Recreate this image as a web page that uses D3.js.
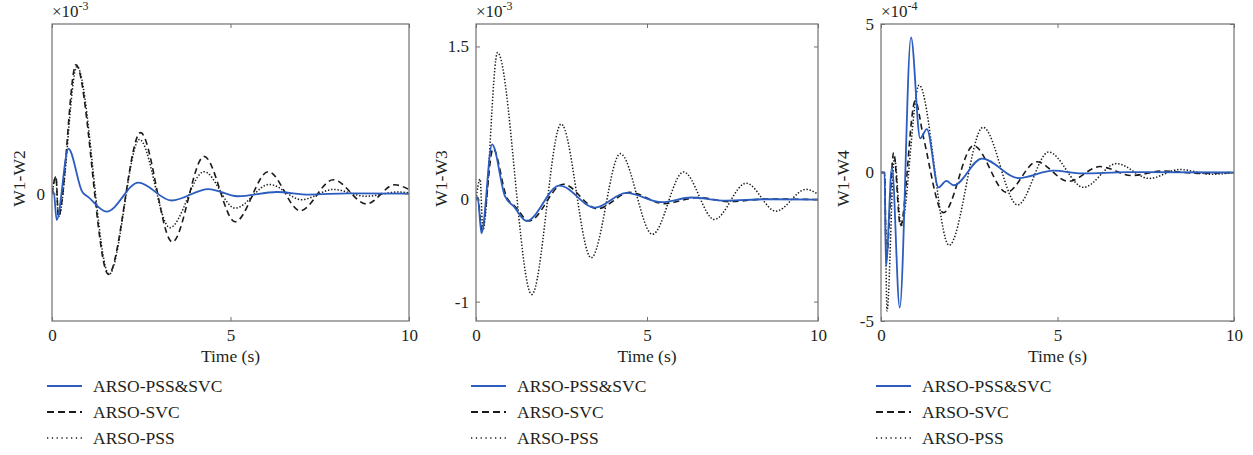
<!DOCTYPE html>
<html>
<head>
<meta charset="utf-8">
<script src="https://cdn.jsdelivr.net/npm/d3@7"></script>
<style>
  body { margin: 0; background: #fff; }
</style>
</head>
<body>
<svg id="chart" width="1253" height="455"></svg>
<script>
// Series data: [time (s), value in units of the panel's multiplier]
const seriesNames = ['ARSO-PSS&SVC', 'ARSO-SVC', 'ARSO-PSS'];

// W1-W2 (x1e-3)
const w12Both = [[0,0],[0.05,0.02],[0.13,-0.31],[0.46,0.53],[0.85,0.02],[1.02,-0.04],[1.53,-0.21],[2.42,0.13],[3.35,-0.08],[4.38,0.055],[5.2,-0.03],[6.3,0.02],[7.2,-0.01],[8.3,0.005],[10,0]];
const w12Svc = [[0,0],[0.11,0.2],[0.18,-0.27],[0.67,1.52],[1.58,-0.95],[2.48,0.72],[3.37,-0.57],[4.26,0.44],[5.13,-0.33],[6.06,0.26],[6.95,-0.2],[7.88,0.165],[8.81,-0.12],[9.6,0.105],[10,0.05]];
const w12Pss = [[0,0],[0.11,0.2],[0.18,-0.27],[0.7,1.5],[1.6,-0.95],[2.45,0.64],[3.3,-0.4],[4.26,0.26],[5.13,-0.17],[6.09,0.11],[6.99,-0.07],[7.88,0.05],[8.8,-0.03],[9.7,0.02],[10,0.01]];

// W1-W3 (x1e-3)
const w13Both = [[0,0],[0.05,0.02],[0.16,-0.33],[0.47,0.54],[0.85,0.03],[1.1,-0.065],[1.48,-0.21],[2.44,0.137],[3.48,-0.08],[4.39,0.065],[5.44,-0.026],[6.3,0.02],[7.3,-0.01],[8.5,0.003],[10,0]];
const w13Svc = [[0,0],[0.05,0.02],[0.17,-0.3],[0.5,0.5],[0.9,0.02],[1.15,-0.07],[1.55,-0.21],[2.55,0.15],[3.55,-0.09],[4.5,0.07],[5.5,-0.04],[6.5,0.02],[7.4,-0.02],[8.5,0.005],[10,0]];
const w13Pss = [[0,0],[0.12,0.2],[0.2,-0.3],[0.63,1.44],[1.63,-0.93],[2.49,0.74],[3.37,-0.57],[4.22,0.45],[5.16,-0.34],[6.07,0.27],[6.97,-0.195],[7.9,0.16],[8.77,-0.114],[9.65,0.1],[10,0.05]];

// W1-W4 (x1e-4)
const w14Both = [[0,0],[0.1,0],[0.14,-3.15],[0.31,0.17],[0.53,-4.55],[0.85,4.55],[1.11,1.15],[1.3,1.46],[1.63,-0.5],[1.85,-0.28],[2.06,-0.43],[2.86,0.47],[3.9,-0.19],[4.88,0.06],[5.7,-0.03],[7,0.01],[10,0]];
const w14Svc = [[0,0],[0.1,0],[0.15,-2.9],[0.36,0.67],[0.55,-1.8],[0.97,2.41],[1.2,1.2],[1.77,-1.35],[2.62,0.9],[3.56,-0.67],[4.41,0.36],[5.31,-0.3],[6.2,0.2],[7.1,-0.1],[8.0,0.05],[9.0,-0.03],[10,0]];
const w14Pss = [[0,0],[0.1,0],[0.17,-4.66],[0.38,0.5],[0.57,-1.8],[1.08,2.94],[1.93,-2.45],[2.89,1.52],[3.87,-1.09],[4.75,0.69],[5.74,-0.5],[6.67,0.3],[7.6,-0.2],[8.45,0.1],[9.4,-0.06],[10,0]];

const xTicks = [0, 5, 10];

const panels = [
  { label: 'W1-W2', exp: '-3', left: 52, right: 409, yDomain: [-1.5, 2], yTicks: [0], labelOff: 27,
    series: [w12Both, w12Svc, w12Pss] },
  { label: 'W1-W3', exp: '-3', left: 476, right: 818, yDomain: [-1.19, 1.72], yTicks: [-1, 0, 1.5], labelOff: 29,
    series: [w13Both, w13Svc, w13Pss] },
  { label: 'W1-W4', exp: '-4', left: 881, right: 1234, yDomain: [-5, 5], yTicks: [-5, 0, 5], labelOff: 32,
    series: [w14Both, w14Svc, w14Pss] }
];

const styles = [
  { color: '#2b5cbf', width: 1.8, dash: null },
  { color: '#1a1a1a', width: 1.6, dash: '6,4' },
  { color: '#1a1a1a', width: 1.5, dash: '1.4,1.8' }
];

const FONT = '"Liberation Serif", "Times New Roman", "DejaVu Serif", serif';
const INK = '#231f20';
const plotTop = 24, plotBottom = 321;
const svg = d3.select('#chart');

panels.forEach(p => {
  const x = d3.scaleLinear().domain([0, 10]).range([p.left, p.right]);
  const y = d3.scaleLinear().domain(p.yDomain).range([plotBottom, plotTop]);
  const g = svg.append('g').attr('font-family', FONT);

  // clip lines to plot area
  const clipId = 'clip-' + p.label;
  svg.append('clipPath').attr('id', clipId)
    .append('rect').attr('x', p.left).attr('y', plotTop)
    .attr('width', p.right - p.left).attr('height', plotBottom - plotTop);

  const line = d3.line()
    .x(d => x(d[0]))
    .y(d => y(d[1]))
    .curve(d3.curveMonotoneX);

  // draw in order: dotted, dashed, solid on top
  [2, 1, 0].forEach(i => {
    const s = styles[i];
    g.append('path')
      .datum(p.series[i])
      .attr('clip-path', `url(#${clipId})`)
      .attr('fill', 'none')
      .attr('stroke', s.color)
      .attr('stroke-width', s.width)
      .attr('stroke-dasharray', s.dash)
      .attr('d', line);
  });

  // axis box
  g.append('rect')
    .attr('x', p.left).attr('y', plotTop)
    .attr('width', p.right - p.left).attr('height', plotBottom - plotTop)
    .attr('fill', 'none').attr('stroke', '#707070').attr('stroke-width', 1.2);

  // bottom and top axes, ticks inside
  const xb = g.append('g').attr('transform', `translate(0,${plotBottom})`)
    .call(d3.axisBottom(x).tickValues(xTicks).tickSizeInner(-4).tickSizeOuter(0).tickPadding(8));
  const xt = g.append('g').attr('transform', `translate(0,${plotTop})`)
    .call(d3.axisTop(x).tickValues(xTicks).tickSizeInner(-4).tickSizeOuter(0).tickFormat(''));
  const yl = g.append('g').attr('transform', `translate(${p.left},0)`)
    .call(d3.axisLeft(y).tickValues(p.yTicks).tickFormat(d => d).tickSizeInner(-4).tickSizeOuter(0).tickPadding(7));
  const yr = g.append('g').attr('transform', `translate(${p.right},0)`)
    .call(d3.axisRight(y).tickValues(p.yTicks).tickSizeInner(-4).tickSizeOuter(0).tickFormat(''));

  [xb, xt, yl, yr].forEach(a => {
    a.attr('font-family', FONT).attr('font-size', 17);
    a.select('.domain').remove();
    a.selectAll('line').attr('stroke', '#707070');
    a.selectAll('text').attr('fill', INK);
  });

  // multiplier
  const mult = g.append('text').attr('x', p.left).attr('y', 17)
    .attr('font-size', 17).attr('fill', INK);
  mult.append('tspan').text('\u00d710');
  mult.append('tspan').attr('dy', -7).attr('font-size', 12).text(p.exp);

  // axis titles
  g.append('text')
    .attr('x', (p.left + p.right) / 2).attr('y', 362)
    .attr('text-anchor', 'middle').attr('font-size', 17.5).attr('fill', INK)
    .text('Time (s)');

  g.append('text')
    .attr('transform', `translate(${p.left - p.labelOff},${(plotTop + plotBottom) / 2 + 6}) rotate(-90)`)
    .attr('text-anchor', 'middle').attr('font-size', 17.5).attr('fill', INK)
    .text(p.label);

  // legend
  const lg = g.append('g').attr('transform', `translate(${p.left - 5},386)`);
  seriesNames.forEach((name, i) => {
    const s = styles[i];
    lg.append('line')
      .attr('x1', 0).attr('x2', 35).attr('y1', i * 26).attr('y2', i * 26)
      .attr('stroke', s.color).attr('stroke-width', i === 2 ? 1.3 : 1.8)
      .attr('stroke-dasharray', i === 1 ? '7,4' : (i === 2 ? '1.3,3.5' : null));
    lg.append('text')
      .attr('x', 46).attr('y', i * 26 + 6)
      .attr('font-size', 17.5).attr('fill', INK)
      .text(name);
  });
});
</script>
</body>
</html>
